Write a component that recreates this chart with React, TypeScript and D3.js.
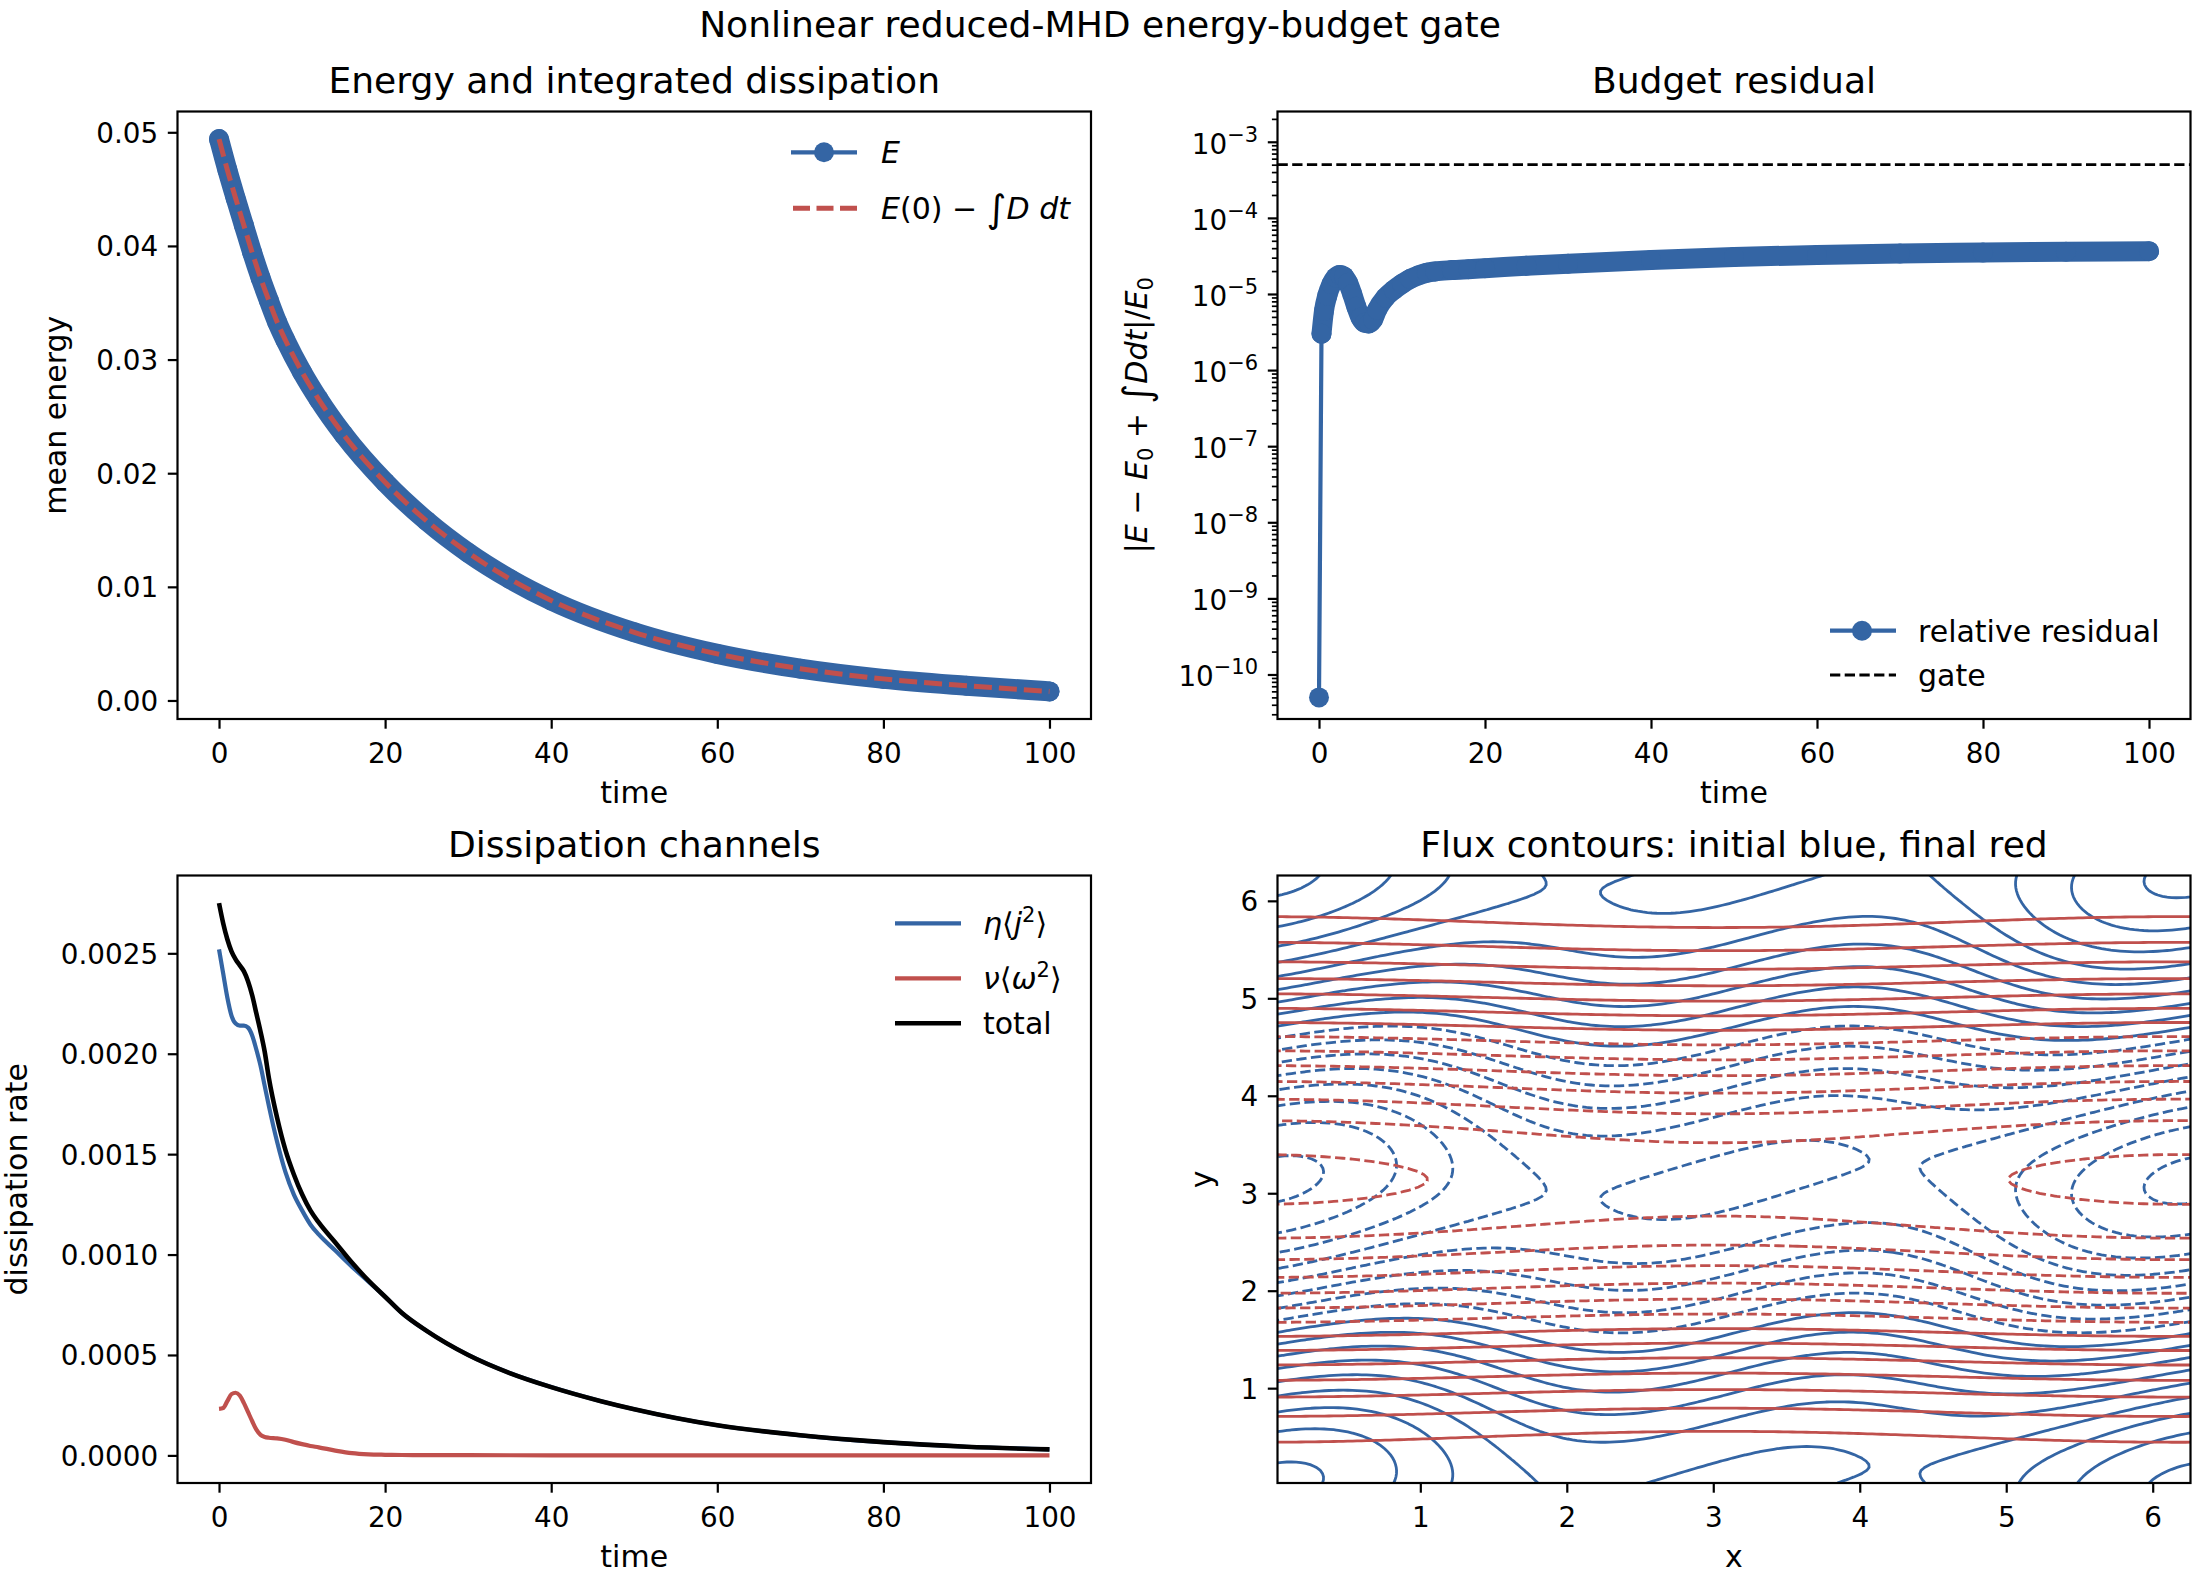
import React, { useEffect, useRef } from 'react'
import * as d3 from 'd3'

const W = 2200
const H = 1584
const FONT = '"DejaVu Sans", sans-serif'
const BLUE = '#3465a4'
const RED = '#c0504d'
const TICK = 9.7

// ---- energy panel ----
const energyTime = [0, 1, 2, 3, 4, 5, 6, 7, 8, 10, 12, 15, 20, 25, 30, 35, 40, 50, 60, 70, 80, 90, 100]
const energy = [0.0494, 0.0467, 0.0442, 0.0418, 0.0394, 0.0372, 0.0352, 0.0333, 0.0317, 0.0289, 0.0265, 0.0234, 0.0192, 0.0158, 0.013, 0.0107, 0.0088, 0.006, 0.0041, 0.0028, 0.0019, 0.0013, 0.0008]
// E(0) - int D dt lies on top of E within the line width
const energyBudget = [0.0494, 0.0467, 0.0442, 0.0418, 0.0394, 0.0372, 0.0352, 0.0333, 0.0317, 0.0289, 0.0265, 0.0234, 0.0192, 0.0158, 0.013, 0.0107, 0.0088, 0.006, 0.0041, 0.0028, 0.0019, 0.0013, 0.0008]
const energyTicks = [0, 0.01, 0.02, 0.03, 0.04, 0.05]
const timeTicks = [0, 20, 40, 60, 80, 100]

// ---- budget residual ----
const residualTime = [0, 0.3, 0.6, 1, 1.5, 2, 2.5, 3, 3.5, 4, 4.5, 5, 5.5, 6, 6.5, 7, 8, 9, 10, 11, 12, 13, 14, 16, 18, 20, 25, 30, 40, 50, 60, 70, 80, 90, 100]
const residual = [5e-11, 3e-6, 6e-6, 9.5e-6, 1.35e-5, 1.65e-5, 1.78e-5, 1.7e-5, 1.4e-5, 1.0e-5, 6.8e-6, 4.9e-6, 4.2e-6, 4.1e-6, 4.6e-6, 6.2e-6, 9e-6, 1.13e-5, 1.36e-5, 1.58e-5, 1.76e-5, 1.9e-5, 1.98e-5, 2.06e-5, 2.12e-5, 2.18e-5, 2.35e-5, 2.5e-5, 2.8e-5, 3.07e-5, 3.25e-5, 3.4e-5, 3.5e-5, 3.58e-5, 3.65e-5]
const gateValue = 5e-4
const residualDecades = [-10, -9, -8, -7, -6, -5, -4, -3]

// ---- dissipation channels ----
const dissTime = [0, 0.5, 1, 1.5, 2, 2.5, 3, 3.5, 4, 4.5, 5, 5.5, 6, 7, 8, 9, 10, 11, 12, 14, 16, 18, 20, 22, 25, 30, 35, 40, 46, 50, 60, 70, 80, 90, 100]
const ohmic = [0.00252, 0.0024, 0.00228, 0.00219, 0.00215, 0.00214, 0.00214, 0.00213, 0.00209, 0.00202, 0.00194, 0.00184, 0.00174, 0.00156, 0.00141, 0.0013, 0.00122, 0.00115, 0.0011, 0.00102, 0.00094, 0.000865, 0.00079, 0.00071, 0.00062, 0.0005, 0.00041, 0.00034, 0.00027, 0.00023, 0.00015, 0.0001, 0.000066, 0.000043, 0.00003]
const viscous = [0.000232, 0.000236, 0.00027, 0.000305, 0.000312, 0.000298, 0.00026, 0.000215, 0.00017, 0.000128, 0.000102, 0.000092, 0.000088, 0.000085, 0.000078, 0.000066, 0.000056, 0.000047, 0.00004, 0.000024, 0.000011, 0.000005, 0.000003, 0.000002, 0.0000015, 0.000001, 0.0000007, 0.0000005, 0.0000003, 0.0000002, 0.0000001, 0.0000001, 0, 0, 0]
const totalDiss = [0.00275, 0.00265, 0.00257, 0.00251, 0.00247, 0.00244, 0.00241, 0.00236, 0.00229, 0.0022, 0.00211, 0.00201, 0.00188, 0.00168, 0.00152, 0.0014, 0.0013, 0.00122, 0.00116, 0.00106, 0.00096, 0.00087, 0.00079, 0.00071, 0.00062, 0.0005, 0.00041, 0.00034, 0.00027, 0.00023, 0.00015, 0.0001, 0.000066, 0.000043, 0.00003]
const dissTicks = [0, 0.0005, 0.001, 0.0015, 0.002, 0.0025]

// ---- flux contours ----
const contourX = [0.025, 6.258]
const contourY = [0.027, 6.26]
const contourTicks = [1, 2, 3, 4, 5, 6]
// flux = sum of amp * cos(kx*x + px) * cos(ky*y + py)
const initialModes = [
  { kx: 0, px: 0, ky: 1, py: 0, amp: 1 },
  { kx: 1, px: 0, ky: 1, py: 0, amp: 0.25 },
  { kx: 2, px: 0, ky: 1, py: 0, amp: 0.12 },
  { kx: 2, px: -1.6, ky: 1, py: -1.5708, amp: 0.17 },
]
const finalModes = [
  { kx: 0, px: 0, ky: 1, py: 0, amp: 1 },
  { kx: 1, px: 0.11, ky: 0, py: 0, amp: -0.04 },
  { kx: 1, px: 0.11, ky: 1, py: 0, amp: 0.015 },
]
const initialLevels = [-1.333, -1.167, -1.0, -0.833, -0.667, -0.5, -0.333, -0.167, 0, 0.167, 0.333, 0.5, 0.667, 0.833, 1.0, 1.167, 1.333]
const finalLevels = [-1.022, -0.876, -0.73, -0.584, -0.438, -0.292, -0.146, 0, 0.146, 0.292, 0.438, 0.584, 0.73, 0.876]

type Box = { x0: number; x1: number; y0: number; y1: number }
const TL: Box = { x0: 177.5, x1: 1091, y0: 111.5, y1: 719 }
const TR: Box = { x0: 1277.5, x1: 2190.5, y0: 111.5, y1: 719 }
const BL: Box = { x0: 177.5, x1: 1091, y0: 875.5, y1: 1483 }
const BR: Box = { x0: 1277.5, x1: 2190.5, y0: 875.5, y1: 1483 }

const pad = (lo: number, hi: number) => [lo - 0.05 * (hi - lo), hi + 0.05 * (hi - lo)]

function xAxis(g: any, box: Box, scale: any, ticks: number[], fmt: any) {
  const a = g.append('g').attr('transform', `translate(0,${box.y1})`)
    .call(d3.axisBottom(scale).tickValues(ticks).tickFormat(fmt).tickSize(TICK).tickPadding(0))
  a.select('.domain').remove()
  a.selectAll('.tick line').attr('stroke', '#000').attr('stroke-width', 2.2)
  a.selectAll('.tick text').attr('y', 44).attr('dy', null)
    .attr('font-family', FONT).attr('font-size', 27.8).attr('fill', '#000')
}

function yAxis(g: any, box: Box, scale: any, ticks: number[], fmt: any) {
  const a = g.append('g').attr('transform', `translate(${box.x0},0)`)
    .call(d3.axisLeft(scale).tickValues(ticks).tickFormat(fmt).tickSize(TICK).tickPadding(9.7))
  a.select('.domain').remove()
  a.selectAll('.tick line').attr('stroke', '#000').attr('stroke-width', 2.2)
  a.selectAll('.tick text').attr('dy', '0.36em')
    .attr('font-family', FONT).attr('font-size', 27.8).attr('fill', '#000')
}

function frame(g: any, box: Box) {
  g.append('rect').attr('x', box.x0).attr('y', box.y0)
    .attr('width', box.x1 - box.x0).attr('height', box.y1 - box.y0)
    .attr('fill', 'none').attr('stroke', '#000').attr('stroke-width', 2.2)
}

function label(g: any, x: number, y: number, txt: string, size: number, rotate = false) {
  const t = g.append('text').attr('font-family', FONT).attr('font-size', size)
    .attr('text-anchor', 'middle').attr('fill', '#000').text(txt)
  if (rotate) t.attr('transform', `translate(${x},${y}) rotate(-90)`)
  else t.attr('x', x).attr('y', y)
  return t
}

function clipFor(svg: any, id: string, box: Box) {
  svg.append('clipPath').attr('id', id).append('rect')
    .attr('x', box.x0).attr('y', box.y0).attr('width', box.x1 - box.x0).attr('height', box.y1 - box.y0)
  return svg.append('g').attr('clip-path', `url(#${id})`)
}

const field = (modes: any[], x: number, y: number) =>
  modes.reduce((s, m) => s + m.amp * Math.cos(m.kx * x + m.px) * Math.cos(m.ky * y + m.py), 0)

function drawContours(g: any, sx: any, sy: any, modes: any[], levels: number[], color: string) {
  const n = 200
  const dx = (contourX[1] - contourX[0]) / (n - 5)
  const dy = (contourY[1] - contourY[0]) / (n - 5)
  const gx0 = contourX[0] - 2 * dx
  const gy0 = contourY[0] - 2 * dy
  const values: number[] = new Array(n * n)
  for (let j = 0; j < n; j++)
    for (let i = 0; i < n; i++) values[j * n + i] = field(modes, gx0 + i * dx, gy0 + j * dy)
  const polys = d3.contours().size([n, n]).thresholds(levels)(values)
  const proj = d3.geoTransform({
    point(px: number, py: number) {
      this.stream.point(sx(gx0 + (px - 0.5) * dx), sy(gy0 + (py - 0.5) * dy))
    },
  })
  const path = d3.geoPath(proj as any)
  g.selectAll(null).data(polys).join('path')
    .attr('d', (d: any) => path(d))
    .attr('fill', 'none').attr('stroke', color).attr('stroke-width', 2.8)
    .attr('stroke-dasharray', (d: any) => (d.value < 0 ? '10.3,4.4' : null))
}

export default function App() {
  const ref = useRef<SVGSVGElement>(null)

  useEffect(() => {
    const svg = d3.select(ref.current)
    svg.selectAll('*').remove()
    svg.append('rect').attr('width', W).attr('height', H).attr('fill', '#fff')

    label(svg, 1100, 37, 'Nonlinear reduced-MHD energy-budget gate', 36.1)

    // ---------- energy ----------
    {
      const x = d3.scaleLinear().domain(pad(0, 100)).range([TL.x0, TL.x1])
      const y = d3.scaleLinear().domain(pad(d3.min(energy)!, d3.max(energy)!)).range([TL.y1, TL.y0])
      const c = clipFor(svg, 'clip-tl', TL)
      const pts = energyTime.map((t, i) => [x(t), y(energy[i])] as [number, number])
      const line = d3.line().curve(d3.curveMonotoneX)
      c.append('path').attr('d', line(pts)).attr('fill', 'none').attr('stroke', BLUE)
        .attr('stroke-width', 20).attr('stroke-linecap', 'round').attr('stroke-linejoin', 'round')
      c.selectAll(null).data(pts).join('circle').attr('cx', (d: any) => d[0]).attr('cy', (d: any) => d[1])
        .attr('r', 10).attr('fill', BLUE)
      const bud = energyTime.map((t, i) => [x(t), y(energyBudget[i])] as [number, number])
      c.append('path').attr('d', line(bud)).attr('fill', 'none').attr('stroke', RED)
        .attr('stroke-width', 5).attr('stroke-dasharray', '18,7')
      xAxis(svg, TL, x, timeTicks, d3.format('d'))
      yAxis(svg, TL, y, energyTicks, d3.format('.2f'))
      frame(svg, TL)
      label(svg, (TL.x0 + TL.x1) / 2, TL.y0 - 19, 'Energy and integrated dissipation', 36.1)
      label(svg, (TL.x0 + TL.x1) / 2, TL.y1 + 84, 'time', 30)
      label(svg, 0, 0, 'mean energy', 30, true).attr('transform', `translate(66,${(TL.y0 + TL.y1) / 2}) rotate(-90)`)

      // legend
      svg.append('line').attr('x1', 791).attr('x2', 857).attr('y1', 152.3).attr('y2', 152.3)
        .attr('stroke', BLUE).attr('stroke-width', 4.2)
      svg.append('circle').attr('cx', 824).attr('cy', 152.3).attr('r', 10).attr('fill', BLUE)
      svg.append('text').attr('x', 881).attr('y', 163).attr('font-family', FONT).attr('font-size', 30)
        .attr('font-style', 'italic').text('E')
      svg.append('line').attr('x1', 793).attr('x2', 857).attr('y1', 208.3).attr('y2', 208.3)
        .attr('stroke', RED).attr('stroke-width', 5).attr('stroke-dasharray', '17,6.5')
      const t2 = svg.append('text').attr('x', 881).attr('y', 219).attr('font-family', FONT).attr('font-size', 30)
      t2.append('tspan').attr('font-style', 'italic').text('E')
      t2.append('tspan').text('(0) − ')
      t2.append('tspan').attr('font-size', 38).attr('dy', 3).text('∫')
      t2.append('tspan').attr('font-style', 'italic').attr('dy', -3).text('D dt')
    }

    // ---------- residual ----------
    {
      const x = d3.scaleLinear().domain(pad(0, 100)).range([TR.x0, TR.x1])
      const y = d3.scaleLog().domain([2.6e-11, 2.5e-3]).range([TR.y1, TR.y0])
      const c = clipFor(svg, 'clip-tr', TR)
      const pts = residualTime.map((t, i) => [x(t), y(residual[i])] as [number, number])
      const line = d3.line().curve(d3.curveMonotoneX)
      c.append('path').attr('d', line(pts)).attr('fill', 'none').attr('stroke', BLUE).attr('stroke-width', 4.2)
      c.append('path').attr('d', line(pts.slice(1))).attr('fill', 'none').attr('stroke', BLUE)
        .attr('stroke-width', 20).attr('stroke-linecap', 'round').attr('stroke-linejoin', 'round')
      c.selectAll(null).data(pts).join('circle').attr('cx', (d: any) => d[0]).attr('cy', (d: any) => d[1])
        .attr('r', 10).attr('fill', BLUE)
      c.append('line').attr('x1', TR.x0).attr('x2', TR.x1).attr('y1', y(gateValue)).attr('y2', y(gateValue))
        .attr('stroke', '#000').attr('stroke-width', 2.8).attr('stroke-dasharray', '10.3,4.4')

      xAxis(svg, TR, x, timeTicks, d3.format('d'))
      // log axis: major decades + minor ticks
      const minor: number[] = []
      for (let k = -11; k <= -3; k++) for (let m = 2; m <= 9; m++) {
        const v = m * Math.pow(10, k)
        if (v > 2.6e-11 && v < 2.5e-3) minor.push(v)
      }
      const ma = svg.append('g').attr('transform', `translate(${TR.x0},0)`)
        .call(d3.axisLeft(y).tickValues(minor).tickFormat(() => '').tickSize(5.6))
      ma.select('.domain').remove()
      ma.selectAll('.tick line').attr('stroke', '#000').attr('stroke-width', 1.7)
      const majors = residualDecades.map((k) => Math.pow(10, k))
      const Ma = svg.append('g').attr('transform', `translate(${TR.x0},0)`)
        .call(d3.axisLeft(y).tickValues(majors).tickFormat(() => '').tickSize(TICK))
      Ma.select('.domain').remove()
      Ma.selectAll('.tick line').attr('stroke', '#000').attr('stroke-width', 2.2)
      residualDecades.forEach((k) => {
        const t = svg.append('text').attr('x', TR.x0 - 19.4).attr('y', y(Math.pow(10, k)) + 12)
          .attr('text-anchor', 'end').attr('font-family', FONT).attr('font-size', 27.8)
        t.append('tspan').text('10')
        t.append('tspan').attr('font-size', 21).attr('dy', -12).text(`−${-k}`)
      })
      frame(svg, TR)
      label(svg, (TR.x0 + TR.x1) / 2, TR.y0 - 19, 'Budget residual', 36.1)
      label(svg, (TR.x0 + TR.x1) / 2, TR.y1 + 84, 'time', 30)
      const yl = svg.append('text').attr('font-family', FONT).attr('font-size', 30).attr('text-anchor', 'middle')
        .attr('transform', `translate(1147,${(TR.y0 + TR.y1) / 2}) rotate(-90)`)
      yl.append('tspan').text('|')
      yl.append('tspan').attr('font-style', 'italic').text('E')
      yl.append('tspan').text(' − ')
      yl.append('tspan').attr('font-style', 'italic').text('E')
      yl.append('tspan').attr('font-size', 21).attr('dy', 6).text('0')
      yl.append('tspan').attr('dy', -6).text(' + ')
      yl.append('tspan').attr('font-size', 38).attr('dy', 3).text('∫')
      yl.append('tspan').attr('font-style', 'italic').attr('dy', -3).text('Ddt')
      yl.append('tspan').text('|/')
      yl.append('tspan').attr('font-style', 'italic').text('E')
      yl.append('tspan').attr('font-size', 21).attr('dy', 6).text('0')

      // legend
      svg.append('line').attr('x1', 1830).attr('x2', 1896).attr('y1', 630.7).attr('y2', 630.7)
        .attr('stroke', BLUE).attr('stroke-width', 4.2)
      svg.append('circle').attr('cx', 1862).attr('cy', 630.7).attr('r', 10).attr('fill', BLUE)
      svg.append('text').attr('x', 1918).attr('y', 641.5).attr('font-family', FONT).attr('font-size', 30).text('relative residual')
      svg.append('line').attr('x1', 1830).attr('x2', 1896).attr('y1', 675).attr('y2', 675)
        .attr('stroke', '#000').attr('stroke-width', 2.8).attr('stroke-dasharray', '10.3,4.4')
      svg.append('text').attr('x', 1918).attr('y', 686).attr('font-family', FONT).attr('font-size', 30).text('gate')
    }

    // ---------- dissipation channels ----------
    {
      const x = d3.scaleLinear().domain(pad(0, 100)).range([BL.x0, BL.x1])
      const y = d3.scaleLinear().domain(pad(0, d3.max(totalDiss)!)).range([BL.y1, BL.y0])
      const c = clipFor(svg, 'clip-bl', BL)
      const series: [number[], string, number][] = [[ohmic, BLUE, 4.2], [viscous, RED, 4.2], [totalDiss, '#000', 4.6]]
      series.forEach(([vals, col, w]) => {
        const line = d3.line<number>().x((_, i) => x(dissTime[i])).y((v) => y(v)).curve(d3.curveMonotoneX)
        c.append('path').attr('d', line(vals)).attr('fill', 'none').attr('stroke', col).attr('stroke-width', w)
      })
      xAxis(svg, BL, x, timeTicks, d3.format('d'))
      yAxis(svg, BL, y, dissTicks, d3.format('.4f'))
      frame(svg, BL)
      label(svg, (BL.x0 + BL.x1) / 2, BL.y0 - 19, 'Dissipation channels', 36.1)
      label(svg, (BL.x0 + BL.x1) / 2, BL.y1 + 84, 'time', 30)
      label(svg, 0, 0, 'dissipation rate', 30, true).attr('transform', `translate(27,${(BL.y0 + BL.y1) / 2}) rotate(-90)`)

      // legend
      const rows: [string, number, number][] = [[BLUE, 923.3, 4.2], [RED, 978.3, 4.2], ['#000', 1023.3, 4.6]]
      rows.forEach(([col, yy, w]) => {
        svg.append('line').attr('x1', 895).attr('x2', 961).attr('y1', yy).attr('y2', yy)
          .attr('stroke', col).attr('stroke-width', w)
      })
      const a = svg.append('text').attr('x', 983).attr('y', 934).attr('font-family', FONT).attr('font-size', 30)
      a.append('tspan').attr('font-style', 'italic').text('η')
      a.append('tspan').text('⟨')
      a.append('tspan').attr('font-style', 'italic').text('j')
      a.append('tspan').attr('font-size', 21).attr('dy', -12).text('2')
      a.append('tspan').attr('dy', 12).text('⟩')
      const b = svg.append('text').attr('x', 983).attr('y', 989).attr('font-family', FONT).attr('font-size', 30)
      b.append('tspan').attr('font-style', 'italic').text('ν')
      b.append('tspan').text('⟨')
      b.append('tspan').attr('font-style', 'italic').text('ω')
      b.append('tspan').attr('font-size', 21).attr('dy', -12).text('2')
      b.append('tspan').attr('dy', 12).text('⟩')
      svg.append('text').attr('x', 983).attr('y', 1034).attr('font-family', FONT).attr('font-size', 30).text('total')
    }

    // ---------- flux contours ----------
    {
      const x = d3.scaleLinear().domain(contourX).range([BR.x0, BR.x1])
      const y = d3.scaleLinear().domain(contourY).range([BR.y1, BR.y0])
      const c = clipFor(svg, 'clip-br', BR)
      drawContours(c, x, y, initialModes, initialLevels, BLUE)
      drawContours(c, x, y, finalModes, finalLevels, RED)
      xAxis(svg, BR, x, contourTicks, d3.format('d'))
      yAxis(svg, BR, y, contourTicks, d3.format('d'))
      frame(svg, BR)
      label(svg, (BR.x0 + BR.x1) / 2, BR.y0 - 19, 'Flux contours: initial blue, final red', 36.1)
      label(svg, (BR.x0 + BR.x1) / 2, BR.y1 + 84, 'x', 30)
      label(svg, 0, 0, 'y', 30, true).attr('transform', `translate(1212,${(BR.y0 + BR.y1) / 2}) rotate(-90)`)
    }
  }, [])

  return <svg ref={ref} width={W} height={H} style={{ position: 'absolute', left: 0, top: 0, display: 'block' }} />
}
